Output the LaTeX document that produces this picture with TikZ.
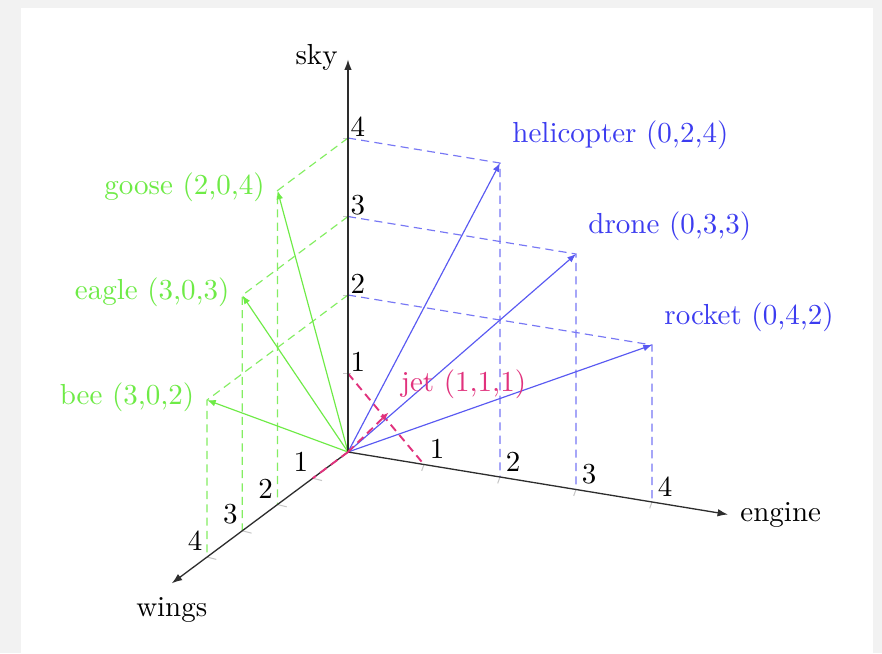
\documentclass[tikz,border=0pt]{standalone}
\usetikzlibrary{arrows.meta}
\definecolor{vblue}{RGB}{60,60,240}
\definecolor{vgreen}{RGB}{110,235,70}
\definecolor{vpink}{RGB}{225,50,125}
\definecolor{axisc}{RGB}{45,45,45}
\definecolor{bgc}{RGB}{242,242,242}
\tikzset{
  axisline/.style={draw=axisc, line width=0.45pt, -{Latex[length=3.6pt,width=2.6pt]}},
  vec/.style={line width=0.4pt, -{Latex[length=3pt,width=2.3pt]}},
  guide/.style={line width=0.4pt, dash pattern=on 2.8pt off 1.8pt},
  tickm/.style={draw=gray!45, line width=0.35pt},
  lblR/.style={anchor=west, inner sep=0pt, xshift=4.1pt, yshift=9.7pt},
  lblL/.style={anchor=east, inner sep=0pt, xshift=-4.2pt, yshift=1pt},
  numS/.style={anchor=south west, inner sep=0pt, xshift=0.7pt, yshift=0.4pt},
  numE/.style={anchor=south west, inner sep=0pt, xshift=1.8pt, yshift=1.8pt},
  numW/.style={anchor=south east, inner sep=0pt, xshift=-1.4pt, yshift=2pt}
}
\begin{document}
\begin{tikzpicture}[x={(-12.16pt,-9.06pt)}, y={(26.22pt,-4.31pt)}, z={(0pt,27.08pt)}]
% background and frame
\fill[bgc] (-120.06pt,-69.35pt) rectangle (184.23pt,155.94pt);
\fill[white] (-112.8pt,-69.35pt) rectangle (181.1pt,153.2pt);
\useasboundingbox (-120.06pt,-69.35pt) rectangle (184.23pt,155.94pt);

% reference points
\coordinate (O) at (0,0,0);
\foreach \k in {1,...,4}{
  \coordinate (s\k) at (0,0,\k);
  \coordinate (e\k) at (0,\k,0);
  \coordinate (w\k) at (\k,0,0);
}
\coordinate (Wend) at (5,0,0);
\coordinate (Eend) at (0,5,0);
\coordinate (Send) at (0,0,5);

\coordinate (heli) at (0,2,4);
\coordinate (drone) at (0,3,3);
\coordinate (rocket) at (0,4,2);
\coordinate (goose) at (2,0,4);
\coordinate (eagle) at (3,0,3);
\coordinate (bee) at (4,0,2);
\coordinate (jet) at (1,1,1);

% ticks
\foreach \k in {1,...,4}{
  \draw[tickm] ([xshift=-1.6pt]s\k) -- ([xshift=1.2pt]s\k);
  \draw[tickm] (e\k) -- ([xshift=-0.8pt,yshift=-2.2pt]e\k);
  \draw[tickm] (w\k) -- ([xshift=3.2pt,yshift=-0.8pt]w\k);
}

% guide lines
\draw[guide, vblue!70] (s4) -- (heli) -- (e2);
\draw[guide, vblue!70] (s3) -- (drone) -- (e3);
\draw[guide, vblue!70] (s2) -- (rocket) -- (e4);
\draw[guide, vgreen!85] (s4) -- (goose) -- (w2);
\draw[guide, vgreen!85] (s3) -- (eagle) -- (w3);
\draw[guide, vgreen!85] (s2) -- (bee) -- (w4);
\draw[guide, vpink, line width=0.65pt] (s1) -- (e1);

% vectors
\draw[vec, vblue!85] (O) -- (heli);
\draw[vec, vblue!85] (O) -- (drone);
\draw[vec, vblue!85] (O) -- (rocket);
\draw[vec, vgreen] (O) -- (goose);
\draw[vec, vgreen] (O) -- (eagle);
\draw[vec, vgreen] (O) -- (bee);

% axes
\draw[axisline] (O) -- (Send);
\draw[axisline] (O) -- (Eend);
\draw[axisline] (O) -- (Wend);
\draw[guide, vpink, line width=0.65pt] (O) -- (w1);
\draw[vec, guide, vpink, line width=0.65pt] (O) -- (jet);
\node[anchor=east, inner sep=0pt, xshift=-3.4pt, yshift=0.6pt] (skylbl) at (Send) {sky};
\node[anchor=west, inner sep=0pt, xshift=4.1pt] (englbl) at (Eend) {engine};
\node[anchor=north, inner sep=0pt, yshift=-4.6pt] (winglbl) at (Wend) {wings};

% tick numbers
\foreach \k in {1,...,4}{
  \node[numS] (ns\k) at (s\k) {\k};
  \node[numE] (ne\k) at (e\k) {\k};
  \node[numW] (nw\k) at (w\k) {\k};
}

% labels
\node[lblR, text=vblue] (helilbl) at (heli) {helicopter (0,2,4)};
\node[lblR, text=vblue] (dronelbl) at (drone) {drone (0,3,3)};
\node[lblR, text=vblue] (rocketlbl) at (rocket) {rocket (0,4,2)};
\node[lblR, text=vpink] (jetlbl) at (jet) {jet (1,1,1)};
\node[lblL, text=vgreen] (gooselbl) at (goose) {goose (2,0,4)};
\node[lblL, text=vgreen] (eaglelbl) at (eagle) {eagle (3,0,3)};
\node[lblL, text=vgreen] (beelbl) at (bee) {bee (3,0,2)};
\end{tikzpicture}
\end{document}
